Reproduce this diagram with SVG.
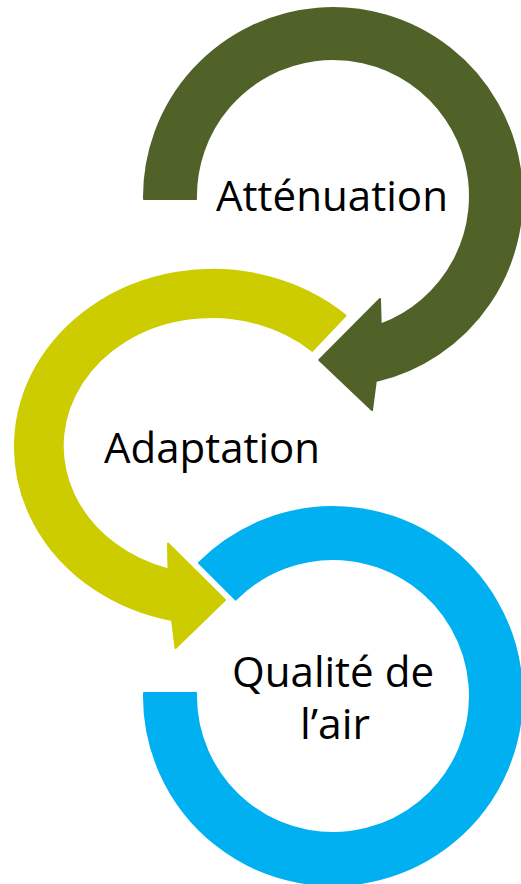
<svg xmlns="http://www.w3.org/2000/svg" width="521" height="884" viewBox="0 0 521 884">
  <style>
    .arrow { stroke-width: 2; stroke-linejoin: round; }
    .green { fill: #506228; stroke: #506228; }
    .yellow { fill: #CCCC00; stroke: #CCCC00; }
    .blue { fill: #00B0F0; stroke: #00B0F0; }
    .label { font-family: "Open Sans", "Noto Sans", "DejaVu Sans", sans-serif; font-size: 42px; fill: #000000; text-anchor: middle; }
  </style>
  <rect x="0" y="0" width="521" height="884" fill="#FFFFFF"/>
  <g id="node-attenuation">
    <path class="arrow green" d="M 144 199 A 189 189 0 1 1 375.8 381.1 L 372 410 L 319.3 360 L 380 299 L 380.7 324.5 A 137 137 0 1 0 196 199 Z"/>
    <text class="label" x="332" y="211" textLength="232" lengthAdjust="spacingAndGlyphs">Atténuation</text>
  </g>
  <g id="node-adaptation">
    <path class="arrow yellow" d="M 345.6 315.5 A 198 177 0 1 0 172.1 620.1 L 175.5 648 L 225 600 L 168 543.5 L 168.5 569.5 A 149 129 0 1 1 312.2 350.8 Z"/>
    <text class="label" x="212" y="463" textLength="216" lengthAdjust="spacingAndGlyphs">Adaptation</text>
  </g>
  <g id="node-qualite">
    <path class="arrow blue" d="M 144 693 A 189 189 0 1 0 198.9 562.9 L 235.6 599.6 A 137 137 0 1 1 196 693 Z"/>
    <text class="label" x="333" y="687" textLength="202" lengthAdjust="spacingAndGlyphs">Qualité de</text>
    <text class="label" x="335" y="739" textLength="70" lengthAdjust="spacingAndGlyphs">l’air</text>
  </g>
  <g id="connectors"/>
</svg>
